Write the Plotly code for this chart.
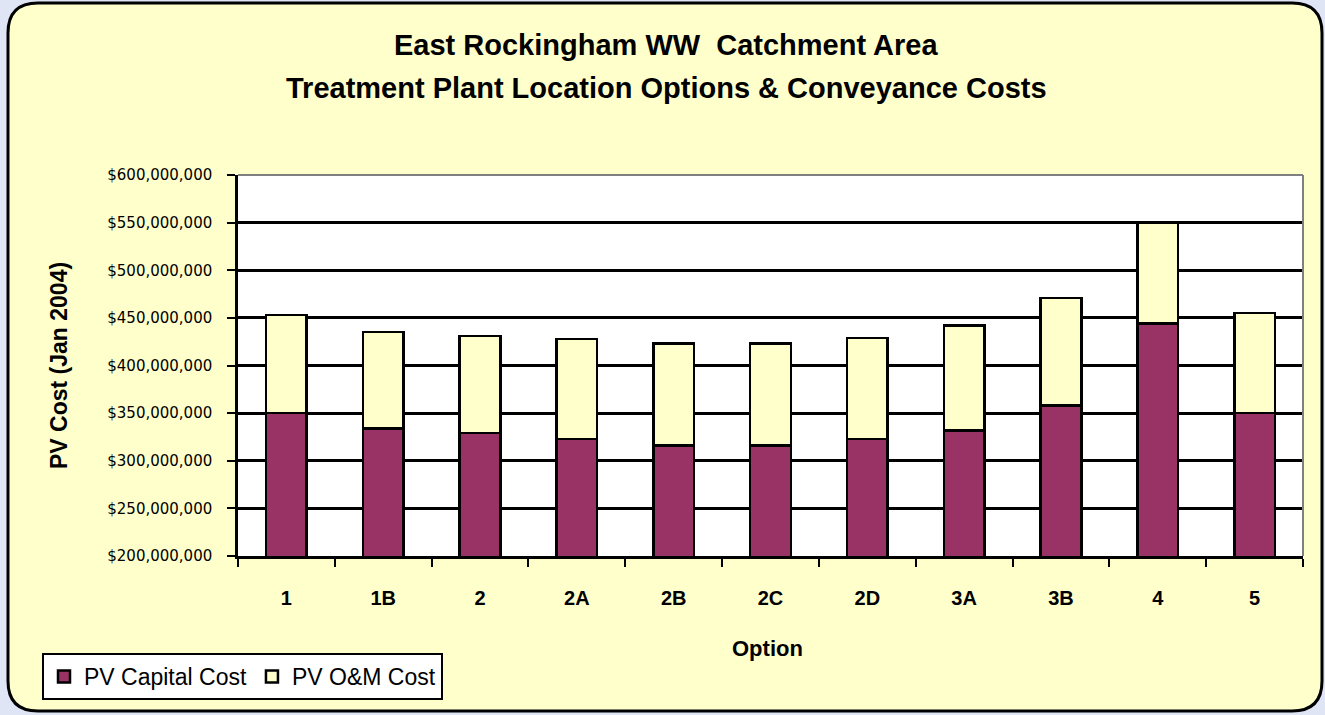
import plotly.graph_objects as go

options = ["1", "1B", "2", "2A", "2B", "2C", "2D", "3A", "3B", "4", "5"]
capital_cost = [350e6, 334e6, 329e6, 323e6, 316e6, 316e6, 323e6, 332e6, 358e6, 444e6, 350e6]
om_cost = [103e6, 101e6, 102e6, 105e6, 107e6, 107e6, 106e6, 110e6, 113e6, 106e6, 105e6]
y_ticks = [200e6, 250e6, 300e6, 350e6, 400e6, 450e6, 500e6, 550e6, 600e6]

W, H = 1325, 715
L, R, T, B = 238, 1303, 175, 556

def px(x):
    return (x - L) / (R - L)

def py(y):
    return (B - y) / (B - T)

FONT = "Liberation Sans, Arial, sans-serif"

fig = go.Figure()
fig.add_trace(go.Bar(x=options, y=capital_cost, name="PV Capital Cost",
                     marker=dict(color="#993366", line=dict(color="black", width=2.5)),
                     width=0.42))
fig.add_trace(go.Bar(x=options, y=om_cost, name="PV O&M Cost",
                     marker=dict(color="#ffffcc", line=dict(color="black", width=2.5)),
                     width=0.42))

# rounded card background
x0, x1, y0, y1, r = 8, 1322, 3, 711, 30
path = (f"M {px(x0+r)},{py(y0)} L {px(x1-r)},{py(y0)} Q {px(x1)},{py(y0)} {px(x1)},{py(y0+r)} "
        f"L {px(x1)},{py(y1-r)} Q {px(x1)},{py(y1)} {px(x1-r)},{py(y1)} "
        f"L {px(x0+r)},{py(y1)} Q {px(x0)},{py(y1)} {px(x0)},{py(y1-r)} "
        f"L {px(x0)},{py(y0+r)} Q {px(x0)},{py(y0)} {px(x0+r)},{py(y0)} Z")
shapes = [
    dict(type="path", path=path, xref="paper", yref="paper", fillcolor="#ffffcc",
         line=dict(color="black", width=3), layer="below"),
    dict(type="rect", xref="paper", yref="paper", x0=0, x1=1, y0=0, y1=1,
         fillcolor="white", line=dict(width=0), layer="below"),
    dict(type="line", xref="paper", yref="paper", x0=0, x1=1, y0=1, y1=1,
         line=dict(color="#808080", width=2)),
    dict(type="line", xref="paper", yref="paper", x0=1, x1=1, y0=0, y1=1,
         line=dict(color="#808080", width=2)),
]

fig.update_layout(
    barmode="stack",
    width=W, height=H,
    margin=dict(l=L, r=W - R, t=T, b=H - B),
    paper_bgcolor="#dfe5f5",
    plot_bgcolor="rgba(0,0,0,0)",
    shapes=shapes,
    font=dict(family=FONT, color="black"),
    showlegend=True,
    legend=dict(orientation="h", x=px(42), y=py(653), xanchor="left", yanchor="top",
                bgcolor="white", bordercolor="black", borderwidth=2,
                font=dict(size=23), traceorder="normal", itemwidth=30,
                tracegroupgap=0),
    annotations=[
        dict(text="<b>East Rockingham WW  Catchment Area</b>", x=px(666), y=py(45),
             xref="paper", yref="paper", showarrow=False, font=dict(size=29),
             xanchor="center", yanchor="middle"),
        dict(text="<b>Treatment Plant Location Options & Conveyance Costs</b>", x=px(666), y=py(88),
             xref="paper", yref="paper", showarrow=False, font=dict(size=29),
             xanchor="center", yanchor="middle"),
        dict(text="<b>Option</b>", x=px(767), y=py(648), xref="paper", yref="paper",
             showarrow=False, font=dict(size=22), xanchor="center", yanchor="middle"),
        dict(text="<b>PV Cost (Jan 2004)</b>", x=px(59), y=py(366), xref="paper", yref="paper",
             showarrow=False, font=dict(size=23), textangle=-90,
             xanchor="center", yanchor="middle"),
    ],
)
fig.update_xaxes(showline=True, linecolor="black", linewidth=2.5,
                 ticks="outside", tickson="boundaries", ticklen=8, tickwidth=2, tickcolor="black",
                 tickfont=dict(size=20, family=FONT),
                 tickprefix="<b>", ticksuffix="</b>",
                 ticklabelstandoff=22, showgrid=False)
fig.update_yaxes(range=[200e6, 600e6], tickvals=y_ticks, tickformat="$,.0f",
                 showline=True, linecolor="black", linewidth=2.5,
                 ticks="outside", ticklen=8, tickwidth=2, tickcolor="black",
                 tickfont=dict(size=15, family="DejaVu Sans, sans-serif"), ticklabelstandoff=12,
                 showgrid=True, gridcolor="black", gridwidth=2.5, zeroline=False)

fig.write_html("out.html", config={"displayModeBar": False},
               post_script="document.body.style.margin='0';")
